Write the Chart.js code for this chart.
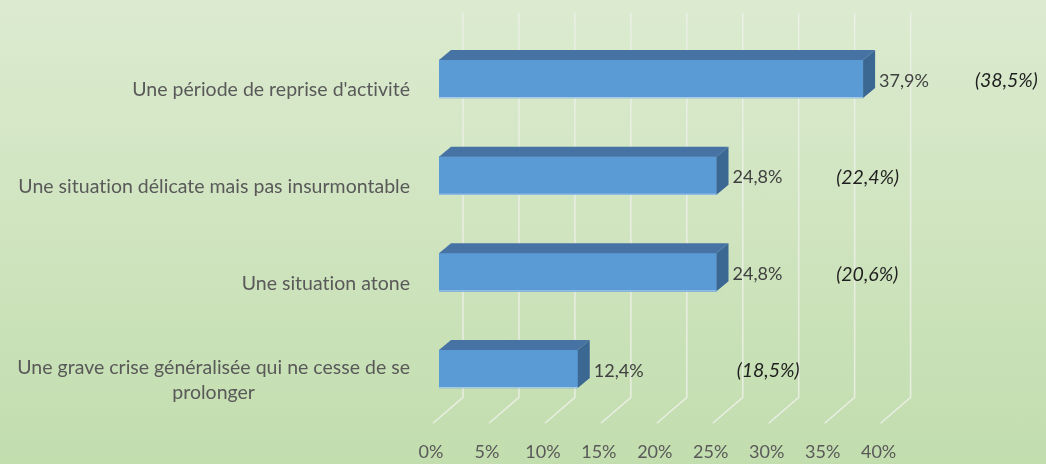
<!DOCTYPE html>
<html>
<head>
<meta charset="utf-8">
<script src="https://cdn.jsdelivr.net/npm/chart.js@4/dist/chart.umd.min.js"></script>
<style>
html, body { margin: 0; padding: 0; }
body { width: 1046px; height: 464px; background: linear-gradient(#dcebd0, #c2ddae); overflow: hidden; }
</style>
</head>
<body>
<canvas id="chart" width="1046" height="464"></canvas>
<script>
const categories = [
    "Une période de reprise d'activité",
    'Une situation délicate mais pas insurmontable',
    'Une situation atone',
    ['Une grave crise généralisée qui ne cesse de se', 'prolonger']
]
const current_values = [37.9, 24.8, 24.8, 12.4]
const previous_values = [38.5, 22.4, 20.6, 18.5]
const tick_values = [0, 5, 10, 15, 20, 25, 30, 35, 40]

// where the "(previous)" labels sit, in x-axis units
const prev_label_at = [47.9, 35.5, 35.5, 26.6]

const font_family = 'Lato, "Open Sans", sans-serif'
const depth_x = 12
const depth_y = 10

function fmt(v) {
    return v.toFixed(1).replace('.', ',') + '%'
}

// back wall + floor gridlines, drawn under the bars
const grid3d = {
    id: 'grid3d',
    beforeDatasetsDraw(chart) {
        const ctx = chart.ctx
        const x = chart.scales.x
        const area = chart.chartArea
        ctx.save()
        ctx.strokeStyle = 'rgba(236,240,232,0.9)'
        ctx.lineWidth = 1.5
        tick_values.forEach(v => {
            const xb = x.getPixelForValue(v) + 24
            const floor_y = area.bottom - 20
            ctx.beginPath()
            ctx.moveTo(xb, area.top - 18)
            ctx.lineTo(xb, floor_y)
            ctx.lineTo(xb - 30, floor_y + 26)
            ctx.stroke()
        })
        ctx.restore()
    }
}

// top and side faces of the bars, then the labels
const bars3d = {
    id: 'bars3d',
    afterDatasetsDraw(chart) {
        const ctx = chart.ctx
        const meta = chart.getDatasetMeta(0)
        const x = chart.scales.x
        ctx.save()
        meta.data.forEach((bar, i) => {
            const top = bar.y - bar.height / 2
            const bottom = bar.y + bar.height / 2
            // top face
            ctx.fillStyle = '#4672a4'
            ctx.beginPath()
            ctx.moveTo(bar.base, top)
            ctx.lineTo(bar.base + depth_x, top - depth_y)
            ctx.lineTo(bar.x + depth_x, top - depth_y)
            ctx.lineTo(bar.x, top)
            ctx.closePath()
            ctx.fill()
            // side face
            ctx.fillStyle = '#3b6793'
            ctx.beginPath()
            ctx.moveTo(bar.x, top)
            ctx.lineTo(bar.x + depth_x, top - depth_y)
            ctx.lineTo(bar.x + depth_x, bottom - depth_y)
            ctx.lineTo(bar.x, bottom)
            ctx.closePath()
            ctx.fill()
            // light bottom edge
            ctx.fillStyle = '#a9c9e8'
            ctx.fillRect(bar.base, bottom - 1, bar.x - bar.base, 1)

            ctx.textBaseline = 'middle'
            ctx.textAlign = 'left'
            ctx.font = '18px ' + font_family
            ctx.fillStyle = '#404040'
            ctx.fillText(fmt(current_values[i]), bar.x + depth_x + 4, bar.y + 2)

            ctx.font = 'italic 19.5px ' + font_family
            ctx.fillStyle = '#1e1e1e'
            ctx.fillText('(' + fmt(previous_values[i]) + ')', x.getPixelForValue(prev_label_at[i]), bar.y + 2)
        })
        ctx.restore()
    },
    afterDraw(chart) {
        // category labels: right aligned block, lines centred inside it
        const ctx = chart.ctx
        const y = chart.scales.y
        ctx.save()
        ctx.font = '19.5px ' + font_family
        ctx.letterSpacing = '0.01px'
        ctx.fillStyle = '#595959'
        ctx.textBaseline = 'middle'
        ctx.textAlign = 'center'
        const right = 410
        categories.forEach((cat, i) => {
            const lines = Array.isArray(cat) ? cat : [cat]
            const w = Math.max(...lines.map(l => ctx.measureText(l).width))
            const cy = y.getPixelForValue(i) + 11
            const line_h = 25
            lines.forEach((l, k) => {
                ctx.fillText(l, right - w / 2, cy + (k - (lines.length - 1) / 2) * line_h)
            })
        })
        ctx.restore()
    }
}

new Chart(document.getElementById('chart'), {
    type: 'bar',
    data: {
        labels: categories,
        datasets: [{
            data: current_values,
            backgroundColor: '#5b9bd5',
            barThickness: 38
        }]
    },
    options: {
        indexAxis: 'y',
        responsive: false,
        devicePixelRatio: 1,
        animation: false,
        layout: {padding: {top: 30.7, right: 159.4, bottom: 0, left: 0}},
        plugins: {
            legend: {display: false},
            tooltip: {enabled: false}
        },
        scales: {
            x: {
                min: 0,
                max: 40,
                border: {display: false},
                grid: {display: false, drawTicks: false},
                ticks: {
                    stepSize: 5,
                    padding: 24,
                    labelOffset: -8,
                    color: '#595959',
                    font: {family: font_family, size: 18},
                    callback: v => v + '%'
                },
                afterFit: scale => { scale.height = 46.7 }
            },
            y: {
                border: {display: false},
                grid: {display: false},
                ticks: {display: false},
                afterFit: scale => { scale.width = 439 }
            }
        }
    },
    plugins: [grid3d, bars3d]
})
</script>
</body>
</html>
